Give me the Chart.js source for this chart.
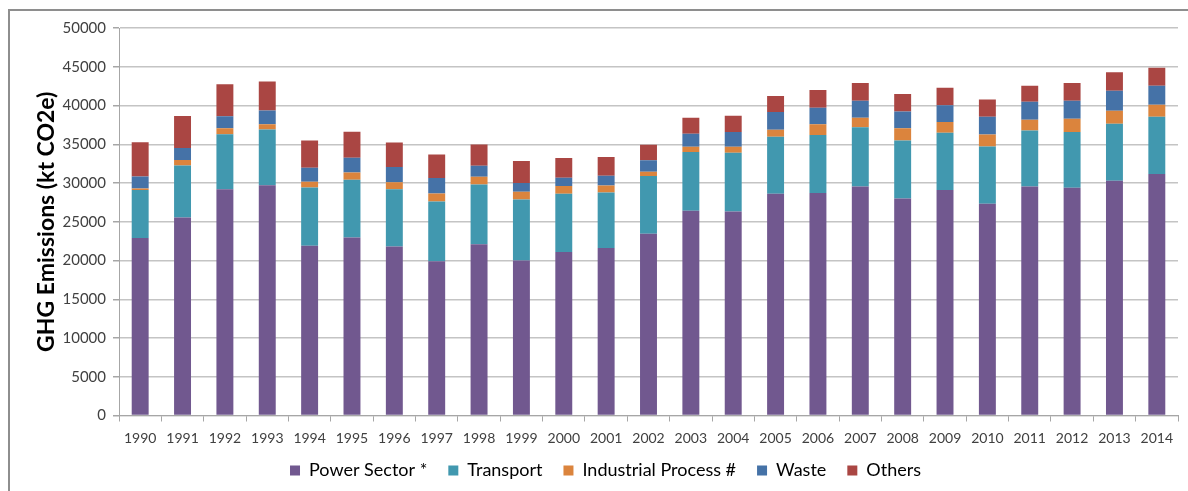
<!DOCTYPE html>
<html>
<head>
<meta charset="utf-8">
<script src="https://cdn.jsdelivr.net/npm/chart.js@4.4.1/dist/chart.umd.min.js"></script>
<style>
    html, body { margin: 0; padding: 0; background: #ffffff; overflow: hidden; }
    #frame {
        position: absolute; left: 8px; top: 9px; width: 1400px; height: 700px;
        border-top: 2px solid #8e8e8e; border-left: 2px solid #8e8e8e;
    }
    #wrap { position: absolute; left: 0; top: 0; width: 1188px; height: 491px; }
</style>
</head>
<body>
<div id="frame"></div>
<div id="wrap"><canvas id="emissionsChart"></canvas></div>
<script>
var years = ['1990', '1991', '1992', '1993', '1994', '1995', '1996', '1997', '1998', '1999',
             '2000', '2001', '2002', '2003', '2004', '2005', '2006', '2007', '2008', '2009',
             '2010', '2011', '2012', '2013', '2014'];

// kt CO2e per sector, stacked bottom to top
var powerSector = [22900, 25550, 29200, 29700, 21900, 22980, 21800, 19900, 22100, 20000,
                   21100, 21600, 23450, 26420, 26330, 28610, 28700, 29560, 28010, 29090,
                   27320, 29560, 29390, 30290, 31150];
var transport = [6200, 6700, 7100, 7200, 7530, 7440, 7400, 7720, 7720, 7880,
                 7510, 7190, 7450, 7570, 7580, 7360, 7490, 7620, 7490, 7400,
                 7400, 7230, 7190, 7360, 7400];
var industrialProcess = [200, 730, 750, 690, 730, 950, 900, 1040, 990, 990,
                         990, 900, 560, 690, 770, 900, 1380, 1250, 1550, 1380,
                         1550, 1380, 1720, 1680, 1550];
var waste = [1550, 1550, 1550, 1760, 1810, 1890, 1980, 1980, 1420, 1120,
             1080, 1250, 1470, 1680, 1890, 2280, 2150, 2190, 2190, 2150,
             2280, 2320, 2320, 2580, 2460];
var others = [4400, 4130, 4130, 3740, 3530, 3360, 3140, 3050, 2750, 2840,
              2540, 2410, 2020, 2070, 2110, 2060, 2280, 2280, 2240, 2280,
              2240, 2070, 2280, 2370, 2320];

var yTicks = [0, 5000, 10000, 15000, 20000, 25000, 30000, 35000, 40000, 45000, 50000];

var labelFont = 'Lato, "Open Sans", sans-serif';

function series(label, values, color) {
    return {
        label: label,
        data: values,
        backgroundColor: color,
        borderWidth: 0,
        barPercentage: 0.4,
        categoryPercentage: 1.0
    };
}

const ctx = document.getElementById('emissionsChart');

new Chart(ctx, {
    type: 'bar',
    data: {
        labels: years,
        datasets: [
            series('Power Sector *', powerSector, '#71588F'),
            series('Transport', transport, '#4198AF'),
            series('Industrial Process #', industrialProcess, '#DB843D'),
            series('Waste', waste, '#4572A7'),
            series('Others', others, '#AA4643')
        ]
    },
    options: {
        responsive: true,
        maintainAspectRatio: false,
        animation: false,
        layout: {
            padding: { left: 33, right: 10, top: 28, bottom: 1.5 }
        },
        scales: {
            x: {
                stacked: true,
                afterFit: function(axis) {
                    // short axis box so the legend sits close; don't clip the year labels to it
                    axis.height = 25;
                    axis._computeLabelArea = function() { return undefined; };
                },
                grid: {
                    drawOnChartArea: false,
                    drawTicks: true,
                    tickLength: 6,
                    color: '#a6a6a6'
                },
                border: { color: '#a6a6a6', width: 1 },
                ticks: {
                    color: '#404040',
                    font: { family: labelFont, size: 14 },
                    padding: 9,
                    maxRotation: 0,
                    autoSkip: false
                }
            },
            y: {
                stacked: true,
                min: 0,
                max: 50000,
                afterBuildTicks: function(axis) {
                    axis.ticks = yTicks.map(function(v) { return { value: v }; });
                },
                afterFit: function(axis) {
                    axis.width = 86;
                },
                grid: {
                    color: '#c4c4c4',
                    lineWidth: 1.5,
                    tickLength: 6,
                    tickColor: '#a6a6a6'
                },
                border: { color: '#a6a6a6', width: 1 },
                ticks: {
                    color: '#404040',
                    font: { family: labelFont, size: 15 },
                    padding: 7,
                    callback: function(value) {
                        return String(value);
                    }
                },
                title: {
                    display: true,
                    text: 'GHG Emissions (kt CO2e)',
                    color: '#000000',
                    font: { family: labelFont, size: 23, weight: 'bold' },
                    padding: { top: 0, bottom: 0 }
                }
            }
        },
        plugins: {
            legend: {
                position: 'bottom',
                labels: {
                    boxWidth: 10,
                    boxHeight: 10,
                    padding: 21,
                    color: '#000000',
                    font: { family: labelFont, size: 18 }
                }
            },
            tooltip: { enabled: false }
        }
    }
});
</script>
</body>
</html>
